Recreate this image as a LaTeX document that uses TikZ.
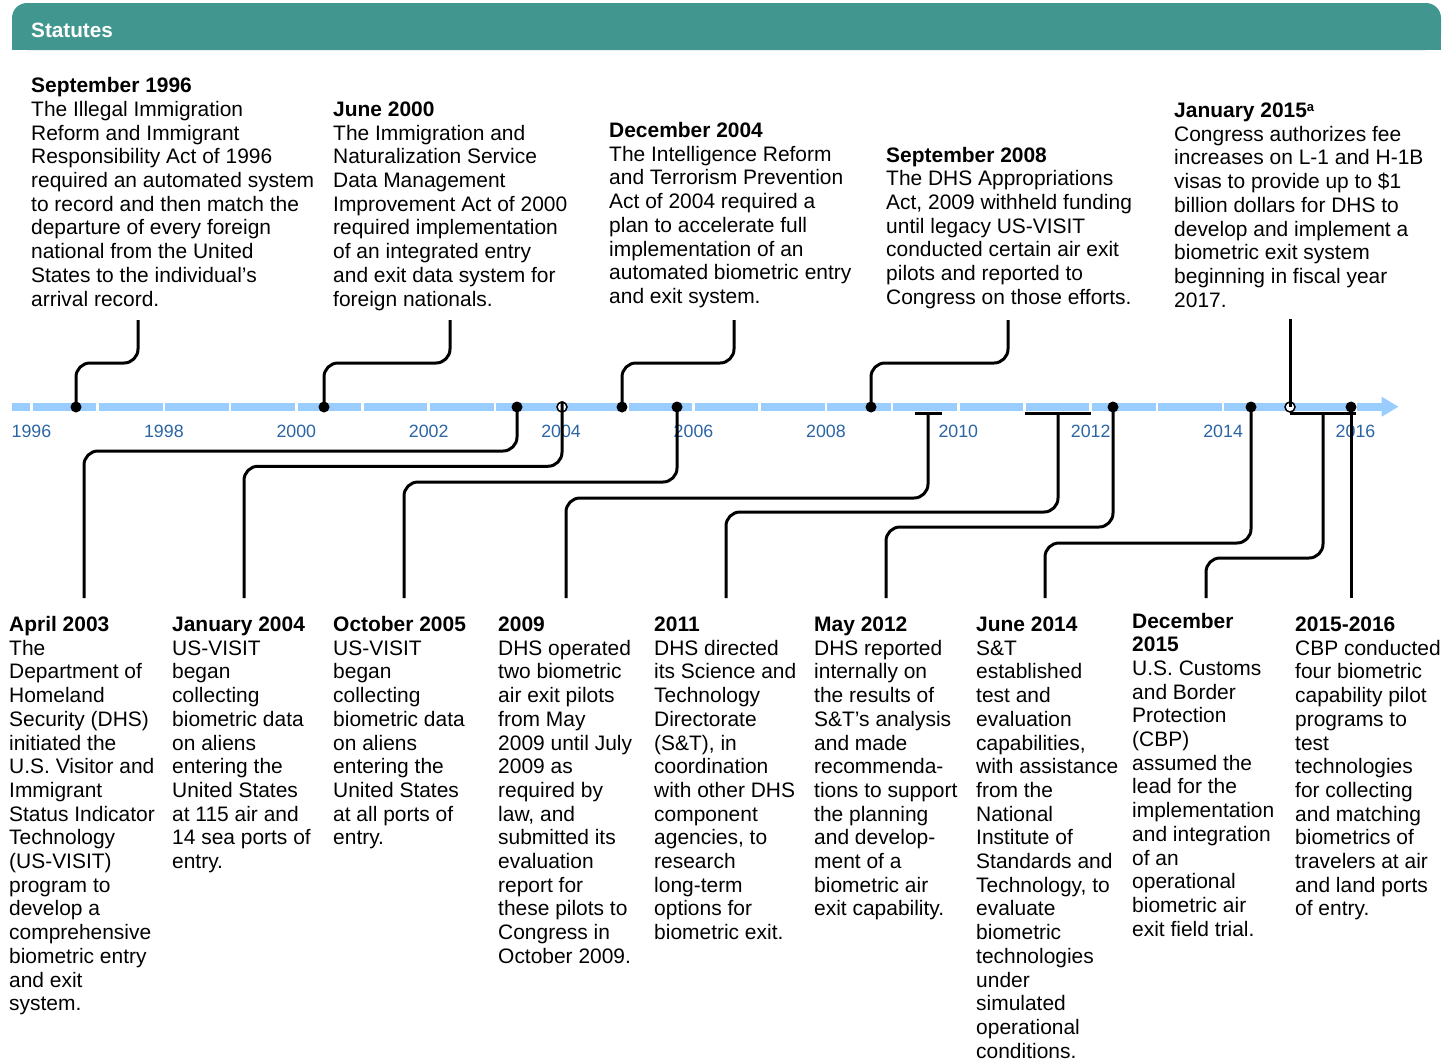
\documentclass[tikz,border=0pt]{standalone}
\usepackage{fontspec}
\setmainfont{Liberation Sans}
\definecolor{hdr}{HTML}{41978F}
\definecolor{barblue}{HTML}{99CCFF}
\definecolor{yearblue}{HTML}{2A64A4}
\begin{document}
\begin{tikzpicture}[x=1pt,y=-1pt,
  txt/.style={anchor=base west, align=left, inner sep=0pt, font=\fontsize{20.95}{23.7}\selectfont},
  yr/.style={anchor=base, text=yearblue, inner sep=0pt, font=\fontsize{17.8}{20}\selectfont},
  conn/.style={line width=3pt, rounded corners=14pt},
  tbarline/.style={line width=3pt},
  dotm/.style={circle, fill=black, minimum size=11pt, inner sep=0pt},
  odot/.style={circle, draw=black, fill=white, line width=1.5pt, minimum size=10pt, inner sep=0pt}]
\useasboundingbox (0,0) rectangle (1456,1061);
% header
\fill[hdr, rounded corners=15pt] (12,3) rectangle (1441,50);
\fill[hdr] (12,25) rectangle (1441,50);
\node[anchor=base west, inner sep=0pt, text=white, font=\fontsize{20.7}{24}\selectfont\bfseries] (hdrtxt) at (31,37.5) {Statutes};
% timeline bar
\fill[barblue] (12,402.7) rectangle (1382,410.7);
\fill[barblue] (1381.7,396.7) -- (1398.3,406.7) -- (1381.7,416.7) -- cycle;
\foreach \i in {0,...,20} \fill[white] ({31.5+66.2*\i-1.25},400) rectangle ++(2.5,13);
% year labels
\foreach \y in {1996,1998,...,2016}
  \node[yr] (y\y) at ({31.5+66.2*(\y-1996)},437.3) {\y};
% T-bars
\draw[tbarline] (915,413) -- (942,413);
\draw[tbarline] (1025,413) -- (1091,413);
\draw[tbarline] (1290,413) -- (1356,413);
\coordinate (tb1) at (928,413);
\coordinate (tb2) at (1058,413);
\coordinate (tb3) at (1323,413);
% markers
\node[odot] (o1) at (562,407) {};
\node[odot] (o2) at (1290,407) {};
\node[dotm] (m1) at (76,407) {};
\node[dotm] (m2) at (324,407) {};
\node[dotm] (m3) at (622,407) {};
\node[dotm] (m4) at (871,407) {};
\node[dotm] (ma) at (517,407) {};
\node[dotm] (mc) at (677,407) {};
\node[dotm] (mf) at (1113,407) {};
\node[dotm] (mg) at (1251,407) {};
\node[dotm] (mi) at (1351,407) {};
% connector ends
\coordinate (e1) at (138,320);
\coordinate (e2) at (450,320);
\coordinate (e3) at (734,320);
\coordinate (e4) at (1008,320);
\coordinate (e5) at (1290,319);
\coordinate (ba) at (84,598);
\coordinate (bb) at (244,598);
\coordinate (bc) at (404,598);
\coordinate (bd) at (566,598);
\coordinate (be) at (726,598);
\coordinate (bf) at (886,598);
\coordinate (bg) at (1045,598);
\coordinate (bh) at (1206,598);
\coordinate (bi) at (1351,598);
% top connectors
\draw[conn] (m1.center) -- ++(0,-44) -| (e1);
\draw[conn] (m2.center) -- ++(0,-44) -| (e2);
\draw[conn] (m3.center) -- ++(0,-44) -| (e3);
\draw[conn] (m4.center) -- ++(0,-44) -| (e4);
\draw[conn] (e5) -- (o2.center);
% bottom connectors
\draw[conn] (ma.center) -- ++(0,44) -| (ba);
\draw[conn] (o1.north) -- ++(0,65) -| (bb);
\draw[conn] (mc.center) -- ++(0,75) -| (bc);
\draw[conn] (tb1) -- ++(0,85) -| (bd);
\draw[conn] (tb2) -- ++(0,99) -| (be);
\draw[conn] (mf.center) -- ++(0,120) -| (bf);
\draw[conn] (mg.center) -- ++(0,136) -| (bg);
\draw[conn] (tb3) -- ++(0,145) -| (bh);
\draw[conn] (mi.center) -- (bi);
% top texts (anchor = baseline of last line)
\node[txt] (t1) at (31,306.0) {\textbf{September 1996}\\The Illegal Immigration\\Reform and Immigrant\\Responsibility Act of 1996\\required an automated system\\to record and then match the\\departure of every foreign\\national from the United\\States to the individual’s\\arrival record.};
\node[txt] (t2) at (333,306.0) {\textbf{June 2000}\\The Immigration and\\Naturalization Service\\Data Management\\Improvement Act of 2000\\required implementation\\of an integrated entry\\and exit data system for\\foreign nationals.};
\node[txt] (t3) at (609,303.4) {\textbf{December 2004}\\The Intelligence Reform\\and Terrorism Prevention\\Act of 2004 required a\\plan to accelerate full\\implementation of an\\automated biometric entry\\and exit system.};
\node[txt] (t4) at (886,304.2) {\textbf{September 2008}\\The DHS Appropriations\\Act, 2009 withheld funding\\until legacy US-VISIT\\conducted certain air exit\\pilots and reported to\\Congress on those efforts.};
\node[txt] (t5) at (1174,307.1) {\textbf{January 2015{\fontsize{13}{13}\selectfont\raisebox{0.45em}{a}}}\\Congress authorizes fee\\increases on L-1 and H-1B\\visas to provide up to \$1\\billion dollars for DHS to\\develop and implement a\\biometric exit system\\beginning in fiscal year\\2017.};
% bottom texts
\node[txt] (ta) at (9,1010.7) {\textbf{April 2003}\\The\\Department of\\Homeland\\Security (DHS)\\initiated the\\U.S. Visitor and\\Immigrant\\Status Indicator\\Technology\\(US-VISIT)\\program to\\develop a\\comprehensive\\biometric entry\\and exit\\system.};
\node[txt] (tb) at (172,868.5) {\textbf{January 2004}\\US-VISIT\\began\\collecting\\biometric data\\on aliens\\entering the\\United States\\at 115 air and\\14 sea ports of\\entry.};
\node[txt] (tc) at (333,844.8) {\textbf{October 2005}\\US-VISIT\\began\\collecting\\biometric data\\on aliens\\entering the\\United States\\at all ports of\\entry.};
\node[txt] (td) at (498,963.3) {\textbf{2009}\\DHS operated\\two biometric\\air exit pilots\\from May\\2009 until July\\2009 as\\required by\\law, and\\submitted its\\evaluation\\report for\\these pilots to\\Congress in\\October 2009.};
\node[txt] (te) at (654,939.6) {\textbf{2011}\\DHS directed\\its Science and\\Technology\\Directorate\\(S\&T), in\\coordination\\with other DHS\\component\\agencies, to\\research\\long-term\\options for\\biometric exit.};
\node[txt] (tf) at (814,915.9) {\textbf{May 2012}\\DHS reported\\internally on\\the results of\\S\&T’s analysis\\and made\\recommenda-\\tions to support\\the planning\\and develop-\\ment of a\\biometric air\\exit capability.};
\node[txt] (tg) at (976,1058.1) {\textbf{June 2014}\\S\&T\\established\\test and\\evaluation\\capabilities,\\with assistance\\from the\\National\\Institute of\\Standards and\\Technology, to\\evaluate\\biometric\\technologies\\under\\simulated\\operational\\conditions.};
\node[txt] (th) at (1132,936.1) {\textbf{December}\\\textbf{2015}\\U.S. Customs\\and Border\\Protection\\(CBP)\\assumed the\\lead for the\\implementation\\and integration\\of an\\operational\\biometric air\\exit field trial.};
\node[txt] (ti) at (1295,915.9) {\textbf{2015-2016}\\CBP conducted\\four biometric\\capability pilot\\programs to\\test\\technologies\\for collecting\\and matching\\biometrics of\\travelers at air\\and land ports\\of entry.};
\end{tikzpicture}
\end{document}
